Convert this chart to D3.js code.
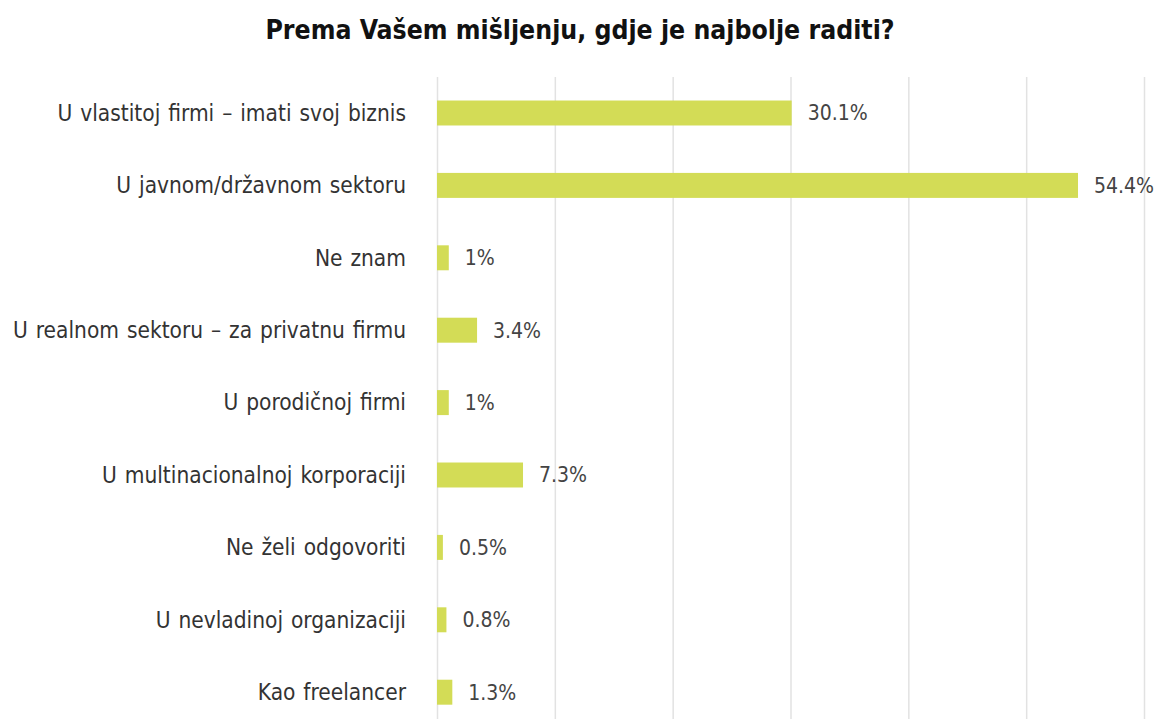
<!DOCTYPE html>
<html>
<head>
<meta charset="utf-8">
<script src="https://cdn.jsdelivr.net/npm/d3@7"></script>
<style>
  body { margin: 0; background: #fff; }
  svg text { font-family: "DejaVu Sans Condensed", "Liberation Sans Narrow", "Roboto", sans-serif; }
</style>
</head>
<body>
<div id="vizcontainer"></div>
<script>
const categories = [
  'U vlastitoj firmi – imati svoj biznis',
  'U javnom/državnom sektoru',
  'Ne znam',
  'U realnom sektoru – za privatnu firmu',
  'U porodičnoj firmi',
  'U multinacionalnoj korporaciji',
  'Ne želi odgovoriti',
  'U nevladinoj organizaciji',
  'Kao freelancer'
];
const values = [30.1, 54.4, 1, 3.4, 1, 7.3, 0.5, 0.8, 1.3];
const valueLabels = ['30.1%', '54.4%', '1%', '3.4%', '1%', '7.3%', '0.5%', '0.8%', '1.3%'];
const ticks = [0, 10, 20, 30, 40, 50, 60];
const title = 'Prema Vašem mišljenju, gdje je najbolje raditi?';

const width = 1167,
  height = 719,
  barColor = '#d3dc56';

const svg = d3.select('#vizcontainer')
  .append('svg')
  .attr('width', width)
  .attr('height', height);

const x = d3.scaleLinear()
  .domain([0, 60])
  .range([437, 1144]);

const y = d3.scaleBand()
  .domain(categories)
  .range([76.8, 728.4])
  .paddingInner(0.655)
  .paddingOuter(0.655 / 2);

// grid
const grid = svg.append('g')
  .attr('transform', `translate(0,77)`)
  .call(d3.axisBottom(x).tickValues(ticks).tickSize(height - 77).tickFormat(''));
grid.select('.domain').remove();
grid.selectAll('.tick line').attr('stroke', '#e2e2e2').attr('stroke-width', 1.5);

svg.append('text')
  .attr('x', 580)
  .attr('y', 39)
  .attr('text-anchor', 'middle')
  .attr('font-size', 26.4)
  .attr('font-weight', 'bold')
  .attr('fill', '#111')
  .text(title);

svg.append('g').selectAll('rect')
  .data(values)
  .join('rect')
  .attr('x', x(0))
  .attr('y', (d, i) => y(categories[i]))
  .attr('width', d => x(d) - x(0))
  .attr('height', y.bandwidth())
  .attr('fill', barColor);

svg.append('g').selectAll('text')
  .data(categories)
  .join('text')
  .attr('x', 406)
  .attr('y', d => y(d) + y.bandwidth() / 2)
  .attr('dy', '0.35em')
  .attr('text-anchor', 'end')
  .attr('font-size', 22.5)
  .attr('word-spacing', 1.5)
  .attr('fill', '#333')
  .text(d => d);

svg.append('g').selectAll('text')
  .data(values)
  .join('text')
  .attr('x', d => x(d) + 16)
  .attr('y', (d, i) => y(categories[i]) + y.bandwidth() / 2)
  .attr('dy', '0.35em')
  .attr('font-size', 21)
  .attr('fill', '#444')
  .text((d, i) => valueLabels[i]);
</script>
</body>
</html>
